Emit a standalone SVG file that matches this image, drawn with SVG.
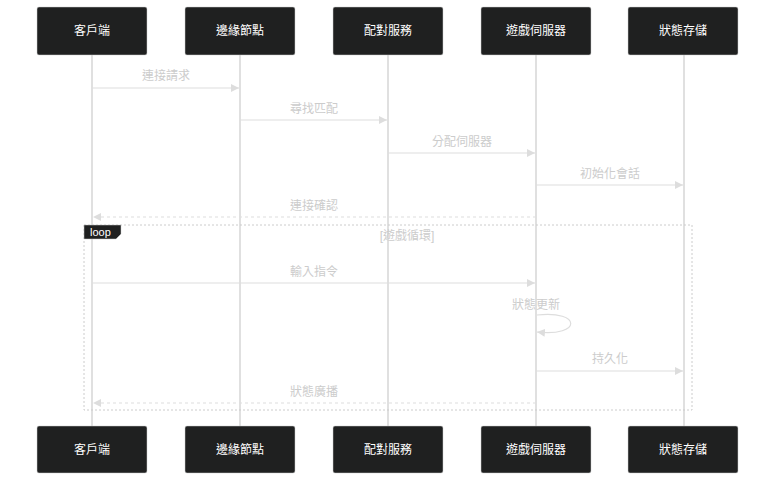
<svg xmlns="http://www.w3.org/2000/svg" width="784" height="487" viewBox="0 0 784 487">
<style>
.actor rect{fill:#1f2020;stroke:#cccccc;stroke-width:0.5}
.actor text{fill:#ffffff;font-family:"Liberation Sans","Noto Sans CJK TC",sans-serif;font-size:12px;text-anchor:middle}
.life{stroke:#cccccc;stroke-width:1.2}
.msg{stroke:#dddddd;stroke-width:1.2;fill:none}
.dash{stroke-dasharray:3,3}
.lbl{fill:#cccccc;font-family:"Liberation Sans","Noto Sans CJK TC",sans-serif;font-size:12px;text-anchor:middle}
</style>
<defs>
<marker id="ah" viewBox="0 0 10 10" refX="10" refY="5" markerWidth="8" markerHeight="8" orient="auto-start-reverse" markerUnits="userSpaceOnUse">
<path d="M0,0 L10,5 L0,10 z" fill="#dddddd"/>
</marker>
</defs>
<rect width="784" height="487" fill="#ffffff"/>
<g id="lifelines">
<line class="life" x1="92" y1="55" x2="92" y2="426"/>
<line class="life" x1="240" y1="55" x2="240" y2="426"/>
<line class="life" x1="388" y1="55" x2="388" y2="426"/>
<line class="life" x1="536" y1="55" x2="536" y2="426"/>
<line class="life" x1="684" y1="55" x2="684" y2="426"/>
</g>
<g id="loop-frame">
<rect x="84" y="225" width="608" height="185" fill="none" stroke="#cccccc" stroke-width="1" stroke-dasharray="2,2"/>
<path d="M84,225 H121 V234 L116,239 H84 Z" fill="#1f2020" stroke="#cccccc" stroke-width="0.5"/>
<text x="90" y="236" fill="#ffffff" font-family="Liberation Sans,sans-serif" font-size="11">loop</text>
<text class="lbl" x="407" y="240">[遊戲循環]</text>
</g>
<g id="connectors">
<line class="msg" x1="92" y1="88" x2="239" y2="88" marker-end="url(#ah)"/>
<text class="lbl" x="166" y="80">連接請求</text>
<line class="msg" x1="240" y1="120" x2="387" y2="120" marker-end="url(#ah)"/>
<text class="lbl" x="314" y="113">尋找匹配</text>
<line class="msg" x1="388" y1="153" x2="535" y2="153" marker-end="url(#ah)"/>
<text class="lbl" x="462" y="146">分配伺服器</text>
<line class="msg" x1="536" y1="185" x2="683" y2="185" marker-end="url(#ah)"/>
<text class="lbl" x="610" y="178">初始化會話</text>
<line class="msg dash" x1="536" y1="217" x2="93" y2="217" marker-end="url(#ah)"/>
<text class="lbl" x="314" y="210">連接確認</text>
<line class="msg" x1="92" y1="283" x2="535" y2="283" marker-end="url(#ah)"/>
<text class="lbl" x="314" y="276">輸入指令</text>
<path class="msg" d="M537,315 C582,310 582,337 537,332" marker-end="url(#ah)"/>
<text class="lbl" x="536" y="309">狀態更新</text>
<line class="msg" x1="536" y1="371" x2="683" y2="371" marker-end="url(#ah)"/>
<text class="lbl" x="610" y="363">持久化</text>
<line class="msg dash" x1="536" y1="403" x2="93" y2="403" marker-end="url(#ah)"/>
<text class="lbl" x="314" y="396">狀態廣播</text>
</g>
<g id="actor-client" class="actor">
<rect x="37" y="7" width="110" height="48" rx="2"/><text x="92" y="35">客戶端</text>
<rect x="37" y="426" width="110" height="47" rx="2"/><text x="92" y="454">客戶端</text>
</g>
<g id="actor-edge" class="actor">
<rect x="185" y="7" width="110" height="48" rx="2"/><text x="240" y="35">邊緣節點</text>
<rect x="185" y="426" width="110" height="47" rx="2"/><text x="240" y="454">邊緣節點</text>
</g>
<g id="actor-match" class="actor">
<rect x="333" y="7" width="110" height="48" rx="2"/><text x="388" y="35">配對服務</text>
<rect x="333" y="426" width="110" height="47" rx="2"/><text x="388" y="454">配對服務</text>
</g>
<g id="actor-game" class="actor">
<rect x="481" y="7" width="110" height="48" rx="2"/><text x="536" y="35">遊戲伺服器</text>
<rect x="481" y="426" width="110" height="47" rx="2"/><text x="536" y="454">遊戲伺服器</text>
</g>
<g id="actor-store" class="actor">
<rect x="628" y="7" width="110" height="48" rx="2"/><text x="683" y="35">狀態存儲</text>
<rect x="628" y="426" width="110" height="47" rx="2"/><text x="683" y="454">狀態存儲</text>
</g>
</svg>
